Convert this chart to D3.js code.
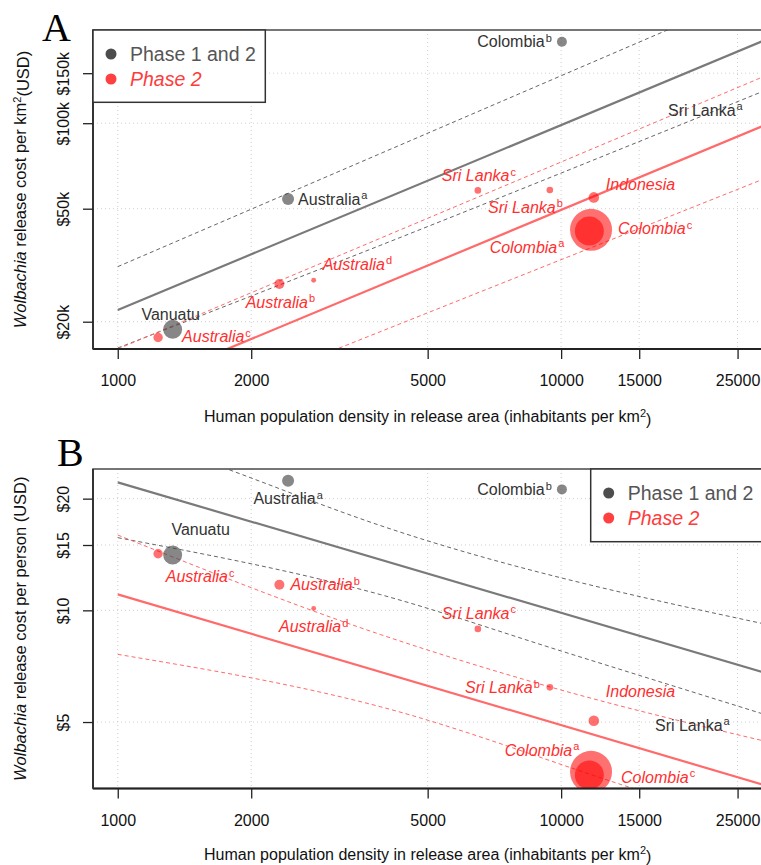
<!DOCTYPE html>
<html>
<head>
<meta charset="utf-8">
<script src="https://cdn.jsdelivr.net/npm/d3@7"></script>
<style>
  html, body { margin: 0; padding: 0; background: #fff; }
  svg { display: block; }
</style>
</head>
<body>
<svg id="chart" width="761" height="865"></svg>
<script>
// ---------------- data ----------------
const siteNames = ["Colombia","Australia","Vanuatu","Sri Lanka","Australia","Australia","Australia","Sri Lanka","Sri Lanka","Indonesia","Colombia","Colombia"];
const siteSup   = ["b","a","","a","c","b","d","c","b","","a","c"];
const sitePhase = ["Phase 1 and 2","Phase 1 and 2","Phase 1 and 2","Phase 1 and 2","Phase 2","Phase 2","Phase 2","Phase 2","Phase 2","Phase 2","Phase 2","Phase 2"];
const density       = [10040, 2422, 1330, 30000, 1233, 2315, 2766, 6490, 9430, 11850, 11580, 11680];
const costPerKm2    = [193600, 54100, 18800, 111300, 17600, 27150, 28000, 58000, 58200, 54800, 41740, 42140];
const costPerPerson = [21.18, 22.35, 14.09, 4.91, 14.21, 11.72, 10.12, 8.91, 6.20, 5.04, 3.60, 3.67];
const releaseWeight = [25, 36, 90, 25, 22, 25, 6, 11, 11, 28, 210, 441];

const densityTicks = [1000, 2000, 5000, 10000, 15000, 25000];
const kmTicks = [20000, 50000, 100000, 150000];
const kmTickLabels = ["$20k", "$50k", "$100k", "$150k"];
const personTicks = [5, 10, 15, 20];
const personTickLabels = ["$5", "$10", "$15", "$20"];
const legendLabels = ["Phase 1 and 2", "Phase 2"];

// fitted lines and prediction bounds, [density, value]
const kmGreyFit   = [[1000, 22000], [30000, 201300]];
const kmGreyUpper = [[1000, 31250], [30000, 307500]];
const kmGreyLower = [[1000, 16160], [3908, 37130], [30000, 133700]];
const kmRedFit    = [[1000, 11080], [30000, 101100]];
const kmRedUpper  = [[1000, 16030], [30000, 150500]];
const kmRedLower  = [[1000, 7900], [30000, 65500]];
const ppGreyFit   = [[1000, 22.13], [30000, 6.69]];
const ppGreyUpper = [[1000, 30.9], [1765, 24.04], [3908, 16.93], [30000, 9.09]];
const ppGreyLower = [[1000, 15.7], [3908, 11.03], [10000, 7.77], [30000, 5.16]];
const ppRedFit    = [[1000, 11.04], [30000, 3.33]];
const ppRedUpper  = [[1000, 15.96], [3908, 8.61], [9430, 6.22], [30000, 4.39]];
const ppRedLower  = [[1000, 7.61], [3908, 5.50], [14550, 3.31], [30000, 2.52]];

// ---------------- style / layout ----------------
const SANS = "'Liberation Sans', Arial, Helvetica, sans-serif";
const SERIF = "'Liberation Serif', 'Times New Roman', serif";
const GREY_PT = "rgb(70,70,70)", RED_PT = "rgb(255,0,0)";
const GREY_TXT = "#333", RED_TXT = "#ff2f2f";
const GREY_LINE = "#7a7a7a", RED_LINE = "#ff6a6a", GREY_DASH = "#666", RED_DASH = "#ff6a6a";
const plotLeft = 93, plotRight = 762.4;

// label offsets [dx, dy, anchor] per site, per panel
const labelA = [[-10,0,"end"],[10,0,"start"],[-2,-15,"middle"],[-30,0,"end"],[24,-1,"start"],[1,18,"middle"],
                [9,-16,"start"],[1,-15,"middle"],[13,17,"end"],[12,-13,"start"],[-25,16,"end"],[27,-1,"start"]];
const labelB = [[-10,0,"end"],[0,18,"middle"],[28,-26,"middle"],[-43,0,"end"],[42,23,"middle"],[11,0,"start"],
                [0,18,"middle"],[1,-16,"middle"],[-10,0,"end"],[12,-29,"start"],[-10,-25,"end"],[30,5,"start"]];

const svg = d3.select("#chart");
const x = d3.scaleLog().domain([879.4, 28440]).range([plotLeft, plotRight]);
const r = d3.scaleSqrt().domain([0, 441]).range([0, 21]);

function drawPanel(cfg) {
  const { top, bottom, id } = cfg;
  const y = d3.scaleLog().domain(cfg.yDomain).range([bottom, top]);
  const g = svg.append("g").style("font-family", SANS);

  g.append("clipPath").attr("id", "clip" + id).append("rect")
    .attr("x", plotLeft).attr("y", top).attr("width", plotRight - plotLeft).attr("height", bottom - top);

  // grid
  g.append("g").selectAll("line").data(densityTicks).join("line")
    .attr("x1", d => x(d)).attr("x2", d => x(d)).attr("y1", top).attr("y2", bottom)
    .attr("stroke", "#cfcfcf").attr("stroke-width", 1).attr("stroke-dasharray", "1,3");
  g.append("g").selectAll("line").data(cfg.yTicks).join("line")
    .attr("y1", d => y(d)).attr("y2", d => y(d)).attr("x1", plotLeft).attr("x2", plotRight)
    .attr("stroke", "#cfcfcf").attr("stroke-width", 1).attr("stroke-dasharray", "1,3");

  const inner = g.append("g").attr("clip-path", `url(#clip${id})`);
  const line = d3.line().x(d => x(d[0])).y(d => y(d[1])).curve(d3.curveMonotoneX);
  cfg.lines.forEach(L => {
    inner.append("path").attr("d", line(L.pts)).attr("fill", "none")
      .attr("stroke", L.color).attr("stroke-width", L.w)
      .attr("stroke-dasharray", L.dash || null);
  });

  // points
  const idx = d3.range(siteNames.length);
  inner.append("g").selectAll("circle").data(idx).join("circle")
    .attr("cx", i => x(density[i])).attr("cy", i => y(cfg.values[i]))
    .attr("r", i => r(releaseWeight[i]))
    .attr("fill", i => sitePhase[i] === "Phase 2" ? RED_PT : GREY_PT)
    .attr("fill-opacity", i => sitePhase[i] === "Phase 2" ? 0.56 : 0.65);

  // labels
  const lab = inner.append("g").selectAll("text").data(idx).join("text")
    .attr("x", i => x(density[i]) + cfg.labels[i][0])
    .attr("y", i => y(cfg.values[i]) + cfg.labels[i][1] + 5.7)
    .attr("text-anchor", i => cfg.labels[i][2])
    .attr("font-size", 16)
    .attr("font-style", i => sitePhase[i] === "Phase 2" ? "italic" : "normal")
    .attr("fill", i => sitePhase[i] === "Phase 2" ? RED_TXT : GREY_TXT);
  lab.append("tspan").text(i => siteNames[i]);
  lab.append("tspan").attr("dy", "-0.5em").attr("dx", 1).attr("font-size", 11).attr("font-style", "normal")
    .text(i => siteSup[i]);

  // box
  g.append("rect").attr("x", plotLeft).attr("y", top).attr("width", plotRight - plotLeft)
    .attr("height", bottom - top).attr("fill", "none").attr("stroke", "#4a4a4a").attr("stroke-width", 1.5);
  g.append("line").attr("x1", plotLeft).attr("x2", plotRight).attr("y1", bottom).attr("y2", bottom)
    .attr("stroke", "#222").attr("stroke-width", 2.2);
  g.append("line").attr("x1", plotLeft).attr("x2", plotLeft).attr("y1", top).attr("y2", bottom)
    .attr("stroke", "#333").attr("stroke-width", 2);

  // x axis
  const xa = g.append("g").attr("transform", `translate(0,${bottom})`)
    .call(d3.axisBottom(x).tickValues(densityTicks).tickFormat(d3.format("d")).tickSize(10).tickPadding(16));
  xa.select(".domain").remove();
  xa.selectAll(".tick line").attr("stroke", "#222").attr("stroke-width", 1.3);
  xa.selectAll(".tick text").attr("font-size", 16).attr("fill", "#111").style("font-family", SANS);

  // y axis
  const ya = g.append("g").attr("transform", `translate(${plotLeft},0)`)
    .call(d3.axisLeft(y).tickValues(cfg.yTicks).tickFormat((d, i) => cfg.yTickLabels[i]).tickSize(10));
  ya.select(".domain").remove();
  ya.selectAll(".tick line").attr("stroke", "#222").attr("stroke-width", 1.3);
  ya.selectAll(".tick text").attr("font-size", 16).attr("fill", "#111").style("font-family", SANS)
    .attr("text-anchor", "middle").attr("x", null).attr("dy", null)
    .attr("transform", "translate(-30,0) rotate(-90)")
    .attr("dominant-baseline", "central");

  // axis titles
  const xt = g.append("text").attr("x", (plotLeft + plotRight) / 2).attr("y", bottom + cfg.xTitleOffset)
    .attr("text-anchor", "middle").attr("font-size", 16).attr("fill", "#111");
  xt.append("tspan").text("Human population density in release area (inhabitants per km");
  xt.append("tspan").attr("dy", "-0.5em").attr("font-size", 11).text("2");
  xt.append("tspan").attr("dy", "0.5em").text(")");

  const yt = g.append("text")
    .attr("transform", `translate(26,${(top + bottom) / 2}) rotate(-90)`)
    .attr("text-anchor", "middle").attr("font-size", 16.5).attr("fill", "#111");
  cfg.yTitle(yt);

  // panel letter
  g.append("text").attr("x", cfg.letterX).attr("y", cfg.letterY).text(cfg.letter)
    .style("font-family", SERIF).attr("font-size", 40).attr("fill", "#000");

  // legend
  const L = cfg.legend;
  const lg = g.append("g");
  lg.append("rect").attr("x", L.x).attr("y", L.y).attr("width", L.w).attr("height", L.h)
    .attr("fill", "#fff").attr("stroke", "#333").attr("stroke-width", 1.5);
  legendLabels.forEach((t, i) => {
    const cy = L.y + 24 + i * 25;
    lg.append("circle").attr("cx", L.x + 18).attr("cy", cy).attr("r", 5.5)
      .attr("fill", i === 0 ? "#4d4d4d" : "#ff4040");
    lg.append("text").attr("x", L.x + 37).attr("y", cy + 7).text(t)
      .attr("font-size", 19.5).attr("font-style", i === 0 ? "normal" : "italic")
      .attr("fill", i === 0 ? "#555" : "#ff3b3b");
  });
}

drawPanel({
  id: "A", top: 30, bottom: 349, yDomain: [16030, 212900], xTitleOffset: 73,
  yTicks: kmTicks, yTickLabels: kmTickLabels, values: costPerKm2, labels: labelA,
  lines: [
    { pts: kmGreyUpper, color: GREY_DASH, w: 1, dash: "4,3" },
    { pts: kmGreyLower, color: GREY_DASH, w: 1, dash: "4,3" },
    { pts: kmRedUpper, color: RED_DASH, w: 1, dash: "4,3" },
    { pts: kmRedLower, color: RED_DASH, w: 1, dash: "4,3" },
    { pts: kmGreyFit, color: GREY_LINE, w: 2.2 },
    { pts: kmRedFit, color: RED_LINE, w: 2.2 }
  ],
  yTitle: t => {
    t.append("tspan").attr("font-style", "italic").text("Wolbachia");
    t.append("tspan").text(" release cost per km");
    t.append("tspan").attr("dy", "-0.5em").attr("font-size", 11).text("2");
    t.append("tspan").attr("dy", "0.5em").text("(USD)");
  },
  letter: "A", letterX: 42, letterY: 41,
  legend: { x: 93, y: 30, w: 172.3, h: 72.3 }
});

drawPanel({
  id: "B", top: 469, bottom: 788.5, yDomain: [3.31, 24.04], xTitleOffset: 71,
  yTicks: personTicks, yTickLabels: personTickLabels, values: costPerPerson, labels: labelB,
  lines: [
    { pts: ppGreyUpper, color: GREY_DASH, w: 1, dash: "4,3" },
    { pts: ppGreyLower, color: GREY_DASH, w: 1, dash: "4,3" },
    { pts: ppRedUpper, color: RED_DASH, w: 1, dash: "4,3" },
    { pts: ppRedLower, color: RED_DASH, w: 1, dash: "4,3" },
    { pts: ppGreyFit, color: GREY_LINE, w: 2.2 },
    { pts: ppRedFit, color: RED_LINE, w: 2.2 }
  ],
  yTitle: t => {
    t.append("tspan").attr("font-style", "italic").text("Wolbachia");
    t.append("tspan").text(" release cost per person (USD)");
  },
  letter: "B", letterX: 57, letterY: 466,
  legend: { x: 590.7, y: 469, w: 171.7, h: 72.7 }
});
</script>
</body>
</html>
